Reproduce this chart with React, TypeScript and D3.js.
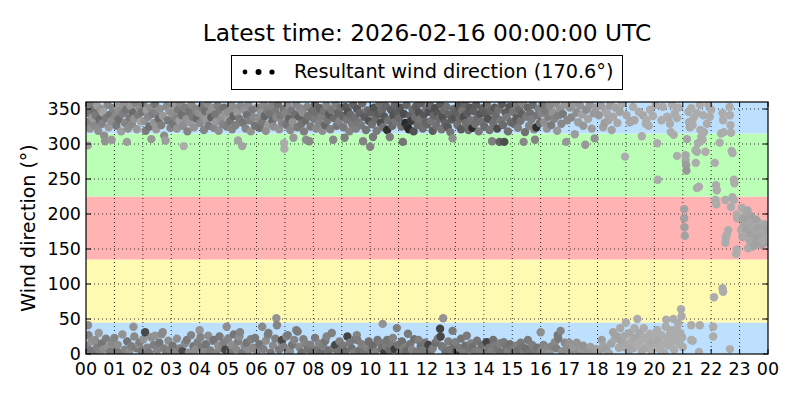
import React from "react";
import * as d3 from "d3";

// ---------- data (hour of day, direction in degrees, gray level 0-255) ----------
const titleText = "Latest time: 2026-02-16 00:00:00 UTC";
const legendText = "Resultant wind direction (170.6°)";
const yLabel = "Wind direction (°)";
const hourLabels = ["00","01","02","03","04","05","06","07","08","09","10","11","12","13","14","15","16","17","18","19","20","21","22","23","00"];
const dirTicks = [0, 50, 100, 150, 200, 250, 300, 350];
const sectorEdges = [0, 45, 135, 225, 315, 360];
const sectorColors = ["#bde0ff", "#fffab2", "#ffb3b3", "#bbffb6", "#bde0ff"];

const upperEarly: [number, number, number][] = [
[0.02,352,120],[0.05,331,110],[0.07,298,140],[0.1,344,95],[0.14,322,125],[0.18,357,105],[0.22,338,130],[0.26,348,90],[0.3,327,115],[0.34,341,100],[0.39,355,135],[0.43,319,120],[0.47,335,85],[0.52,350,125],[0.56,329,110],[0.6,345,140],[0.64,312,120],[0.67,304,125],[0.71,337,100],[0.76,356,115],[0.8,324,130],[0.84,342,95],[0.88,333,120],[0.9,306,130],[0.95,351,110],
[1.03,340,115],[1.07,326,100],[1.11,353,130],[1.15,335,90],[1.2,347,120],[1.24,318,135],[1.28,343,105],[1.33,357,125],[1.37,330,110],[1.41,349,95],[1.44,303,135],[1.48,322,120],[1.53,338,100],[1.57,354,130],[1.61,328,115],[1.66,345,85],[1.7,336,125],[1.75,358,110],[1.79,321,130],[1.84,341,100],[1.88,350,120],[1.93,332,140],[1.97,346,95],
[2.02,356,110],[2.06,333,125],[2.1,319,100],[2.14,348,135],[2.19,339,115],[2.23,325,90],[2.27,352,120],[2.3,307,130],[2.34,343,105],[2.39,330,125],[2.43,357,95],[2.47,321,130],[2.52,345,110],[2.56,336,85],[2.6,350,120],[2.65,327,105],[2.7,340,130],[2.75,312,120],[2.8,305,135],[2.84,354,115],[2.88,334,100],[2.93,347,125],[2.97,323,110],
[3.03,344,120],[3.07,329,95],[3.11,355,130],[3.16,337,110],[3.2,322,125],[3.24,349,100],[3.29,333,135],[3.33,358,115],[3.37,341,90],[3.41,326,120],[3.44,297,150],[3.48,352,105],[3.53,335,125],[3.57,318,110],[3.62,346,95],[3.66,331,130],[3.71,356,115],[3.75,339,100],[3.8,324,125],[3.85,350,110],[3.9,336,85],[3.95,345,120],
[4.02,330,115],[4.06,353,100],[4.1,341,125],[4.15,320,110],[4.19,347,90],[4.23,334,130],[4.28,357,115],[4.32,326,100],[4.36,344,120],[4.41,338,75],[4.45,351,125],[4.5,323,110],[4.54,342,95],[4.58,332,130],[4.63,355,105],[4.67,319,120],[4.72,348,100],[4.76,336,125],[4.81,328,110],[4.86,352,90],[4.9,343,130],[4.95,325,105],
[5.02,346,120],[5.06,333,95],[5.1,357,125],[5.14,321,110],[5.19,340,80],[5.23,351,120],[5.27,327,105],[5.32,345,130],[5.35,305,140],[5.4,336,100],[5.44,354,115],[5.5,297,140],[5.53,330,95],[5.58,348,125],[5.62,322,110],[5.67,341,90],[5.71,356,120],[5.76,334,105],[5.8,318,125],[5.85,349,100],[5.9,338,115],[5.95,326,95],
[6.03,352,105],[6.07,337,120],[6.11,323,90],[6.16,345,125],[6.2,331,100],[6.25,356,115],[6.29,340,80],[6.33,319,120],[6.38,348,105],[6.42,328,130],[6.47,343,95],[6.52,354,110],[6.56,334,85],[6.6,325,120],[6.65,347,100],[6.7,338,115],[6.75,357,90],[6.8,321,125],[6.85,341,100],[6.9,330,110],[6.95,350,95],[6.97,301,150],[6.98,293,160],
[7.02,344,110],[7.06,327,95],[7.1,355,120],[7.14,336,80],[7.19,320,115],[7.23,348,100],[7.27,331,125],[7.3,309,130],[7.35,342,90],[7.4,357,110],[7.44,324,100],[7.49,339,75],[7.53,351,115],[7.58,329,95],[7.62,345,120],[7.67,318,105],[7.72,334,85],[7.74,306,120],[7.78,353,110],[7.82,340,95],[7.86,304,115],[7.9,325,100],[7.95,347,90]
];

const upperMid: [number, number, number][] = [
[8.02,336,100],[8.06,356,85],[8.1,322,115],[8.15,344,90],[8.19,330,110],[8.23,351,75],[8.28,339,105],[8.32,319,120],[8.37,347,95],[8.41,327,80],[8.46,355,110],[8.5,334,95],[8.55,342,70],[8.6,321,105],[8.64,349,100],[8.7,306,115],[8.73,337,85],[8.78,357,105],[8.82,326,95],[8.87,345,80],[8.91,332,110],[8.96,352,90],
[9.02,340,80],[9.06,324,100],[9.1,309,105],[9.13,353,70],[9.18,335,95],[9.22,346,60],[9.27,318,110],[9.31,342,85],[9.36,329,100],[9.4,356,75],[9.45,337,90],[9.5,322,105],[9.54,350,65],[9.59,331,95],[9.63,344,80],[9.68,327,100],[9.72,358,85],[9.75,304,110],[9.8,339,70],[9.85,320,95],[9.9,348,85],[9.95,333,60],
[10.0,296,110],[10.02,345,75],[10.06,328,90],[10.1,310,100],[10.14,352,60],[10.19,336,85],[10.23,319,100],[10.28,343,70],[10.33,357,90],[10.37,330,55],[10.41,347,85],[10.46,324,95],[10.5,339,65],[10.55,354,80],[10.6,320,25],[10.64,334,90],[10.69,310,105],[10.73,349,70],[10.78,326,85],[10.82,341,60],[10.87,356,80],[10.91,332,95],[10.96,345,70],
[11.02,337,85],[11.06,352,65],[11.1,325,90],[11.15,303,95],[11.19,343,55],[11.24,330,20],[11.28,356,80],[11.32,324,30],[11.36,321,20],[11.41,340,75],[11.45,333,40],[11.49,349,85],[11.53,318,60],[11.58,338,90],[11.62,354,70],[11.67,327,85],[11.71,345,60],[11.76,335,95],[11.8,358,75],[11.85,322,90],[11.89,342,65],[11.94,331,80],[11.98,350,95],
[12.02,328,80],[12.06,346,60],[12.11,355,85],[12.15,333,95],[12.2,319,70],[12.24,341,80],[12.29,351,55],[12.33,326,90],[12.38,344,65],[12.42,336,85],[12.47,357,70],[12.51,321,95],[12.55,339,60],[12.6,348,85],[12.64,330,75],[12.69,353,90],[12.73,324,65],[12.78,342,80],[12.82,317,95],[12.87,335,70],[12.9,308,120],[12.94,350,85],[12.98,338,60],
[13.02,345,75],[13.07,327,90],[13.11,354,65],[13.15,336,85],[13.2,321,70],[13.24,348,95],[13.29,339,55],[13.33,357,80],[13.37,330,90],[13.42,344,70],[13.46,320,85],[13.51,352,65],[13.55,334,95],[13.6,323,20],[13.64,347,75],[13.69,329,90],[13.73,356,70],[13.78,338,85],[13.82,318,100],[13.87,343,65],[13.91,332,90],[13.96,351,75],
[14.02,325,85],[14.06,343,70],[14.11,356,90],[14.15,336,60],[14.2,320,95],[14.24,347,80],[14.29,304,105],[14.33,330,90],[14.38,352,65],[14.42,340,85],[14.47,322,55],[14.51,349,90],[14.55,303,75],[14.6,334,95],[14.64,357,70],[14.68,327,85],[14.72,303,55],[14.76,345,75],[14.81,338,100],[14.85,318,90],[14.9,353,65],[14.95,331,85],
[15.02,346,95],[15.06,329,80],[15.11,355,100],[15.15,337,70],[15.2,323,105],[15.24,349,85],[15.29,333,95],[15.33,343,75],[15.38,357,110],[15.4,303,115],[15.45,317,90],[15.5,339,100],[15.54,352,80],[15.59,326,110],[15.63,344,90],[15.68,335,105],[15.72,356,85],[15.77,321,110],[15.8,306,110],[15.85,324,25],[15.88,341,95],[15.93,350,105],[15.97,330,90]
];

const upperLate: [number, number, number][] = [
[16.03,344,110],[16.07,357,95],[16.12,331,120],[16.17,348,100],[16.22,322,125],[16.27,339,105],[16.32,354,115],[16.37,327,100],[16.42,345,125],[16.48,336,110],[16.53,358,120],[16.58,319,130],[16.63,341,105],[16.68,350,125],[16.73,329,115],[16.78,343,100],[16.84,356,130],[16.9,303,130],[16.94,334,115],
[17.03,352,125],[17.08,338,115],[17.14,357,130],[17.2,314,135],[17.26,345,120],[17.32,331,135],[17.38,355,125],[17.45,342,140],[17.5,326,130],[17.57,299,130],[17.6,349,120],[17.67,336,140],[17.73,356,125],[17.8,322,135],[17.87,344,130],[17.9,308,125],[17.95,352,135],
[18.05,341,130],[18.12,355,135],[18.2,324,140],[18.25,330,135],[18.28,349,140],[18.33,344,145],[18.38,334,140],[18.45,356,135],[18.5,320,140],[18.55,339,145],[18.62,352,140],[18.7,330,145],[18.78,346,140],[18.85,357,145],[18.97,282,150],
[19.02,341,145],[19.14,331,145],[19.2,333,145],[19.25,353,150],[19.3,334,145],[19.45,346,150],[19.56,311,150],[19.6,341,145],[19.7,329,150],[19.72,334,150],[19.8,326,150],[19.85,349,150],[19.95,340,150],
[20.05,356,150],[20.1,301,150],[20.12,249,155],[20.25,334,150],[20.3,353,150],[20.45,339,150],[20.5,337,150],[20.55,329,150],[20.58,317,150],[20.62,356,150],[20.68,313,150],[20.72,344,150],[20.8,337,150],[20.8,283,150],[20.85,352,150],
[21.1,284,145],[21.1,277,145],[21.12,270,135],[21.13,262,130],[21.15,307,145],[21.2,346,150],[21.22,331,150],[21.25,324,145],[21.3,351,150],[21.35,327,150],[21.38,337,150],[21.45,291,150],[21.46,273,150],[21.5,289,150],[21.5,344,150],[21.53,301,150],[21.6,356,150],[21.62,320,150],[21.65,310,150],[21.7,306,150],[21.72,341,150],[21.75,317,150],[21.8,289,150],[21.85,329,150],[21.9,356,150],[21.95,339,150],
[22.0,349,150],[22.13,273,150],[22.3,302,150],[22.35,315,150],[22.4,344,150],[22.42,334,150],[22.45,317,150],[22.65,353,150],[22.66,341,150],[22.68,327,150],[22.7,316,150],[22.72,290,150],[22.75,287,150]
];

const turning: [number, number, number][] = [
[21.05,207,140],[21.05,194,140],[21.06,181,140],[21.07,169,140],[21.5,237,150],[21.57,239,150],[22.17,241,150],[22.2,234,150],[22.15,220,150],[22.18,214,150],[22.5,220,150],[22.75,224,150],[22.8,220,150],[22.7,210,150],[22.8,249,150],[22.82,244,150],[23.08,209,150],[22.9,199,150],[22.92,194,150],[23.2,199,150],[23.22,191,150],[23.47,189,150],[23.5,184,150],[23.7,187,150],[23.8,180,150],[22.6,177,150],[22.55,170,150],[22.52,166,150],[22.5,159,150],[22.9,149,150],[22.88,143,150],[23.1,167,145],[23.3,151,150],[23.45,153,150],[23.05,177,150],[23.6,170,150],[23.8,167,150],[23.7,163,150],
[23.15,185,145],[23.25,178,140],[23.3,195,145],[23.35,172,140],[23.4,183,145],[23.42,160,140],[23.55,176,145],[23.58,192,140],[23.62,158,145],[23.65,180,140],[23.75,172,145],[23.78,156,140],[23.85,175,145],[23.88,165,140],[23.9,185,145],[23.93,160,140],[23.95,170,145],[23.97,178,140],[23.99,166,145],[23.5,166,140],[23.35,162,145],[23.12,193,140],[23.28,205,145],[23.4,197,140],[23.52,155,140],[23.68,168,140],[23.82,162,145],
[22.1,81,150],[22.4,94,150],[22.42,89,150]
];

const lowerEarly: [number, number, number][] = [
[0.03,12,115],[0.07,41,120],[0.09,27,110],[0.15,5,100],[0.2,18,125],[0.26,2,95],[0.32,20,120],[0.38,9,105],[0.45,30,130],[0.5,4,110],[0.56,15,95],[0.62,7,120],[0.7,22,105],[0.78,10,125],[0.85,3,100],[0.92,16,115],[1.0,23,110],[1.06,6,95],[1.12,13,120],[1.2,1,100],[1.28,28,125],[1.37,6,110],[1.45,18,95],[1.52,3,120],[1.6,11,105],[1.67,39,125],[1.7,25,115],[1.78,8,100],[1.85,14,120],[1.9,17,105],[1.96,4,95],
[2.02,21,125],[2.08,31,50],[2.15,9,110],[2.22,2,100],[2.3,24,120],[2.38,13,105],[2.43,26,125],[2.5,5,110],[2.58,16,95],[2.66,28,120],[2.7,31,115],[2.75,8,105],[2.82,1,100],[2.9,19,120],[2.97,6,110],[3.05,12,95],[3.12,3,110],[3.2,22,120],[3.3,8,105],[3.4,4,55],[3.48,15,115],[3.55,20,100],[3.62,2,120],[3.7,27,110],[3.78,11,95],[3.85,6,120],[3.93,17,105],
[4.0,34,125],[4.03,24,110],[4.08,9,100],[4.15,3,115],[4.22,14,95],[4.3,26,120],[4.38,5,105],[4.45,19,115],[4.5,20,95],[4.58,1,110],[4.65,12,120],[4.7,25,100],[4.78,8,115],[4.85,16,105],[4.9,6,50],[4.95,39,120],[5.0,22,110],[5.07,3,100],[5.13,13,120],[5.2,28,95],[5.28,7,115],[5.35,18,105],[5.4,25,120],[5.42,31,110],[5.5,2,100],[5.58,11,115],[5.65,16,95],[5.72,5,120],[5.8,21,105],[5.88,9,115],[5.95,23,100],
[6.02,4,110],[6.1,14,95],[6.2,39,115],[6.25,7,105],[6.33,19,120],[6.4,27,110],[6.42,30,100],[6.5,2,95],[6.58,12,115],[6.66,22,105],[6.7,51,125],[6.72,41,110],[6.8,6,100],[6.88,16,115],[6.9,20,50],[6.96,10,105],[7.05,25,110],[7.1,27,100],[7.18,4,115],[7.25,13,95],[7.33,20,110],[7.4,34,105],[7.45,32,100],[7.5,10,115],[7.58,2,90],[7.65,21,105],[7.72,15,110],[7.8,7,95],[7.9,13,105],[7.95,3,90]
];

const lowerMid: [number, number, number][] = [
[8.06,23,100],[8.12,6,95],[8.2,15,110],[8.28,2,85],[8.35,11,105],[8.42,19,95],[8.47,25,110],[8.55,5,90],[8.65,30,105],[8.72,9,100],[8.77,13,50],[8.85,3,95],[8.92,18,105],[8.98,7,90],[9.05,12,100],[9.12,4,85],[9.2,25,45],[9.28,16,100],[9.35,8,90],[9.42,2,105],[9.48,21,95],[9.53,27,110],[9.55,20,100],[9.62,5,90],[9.7,14,105],[9.78,3,95],[9.88,10,110],[9.95,18,90],
[10.02,6,100],[10.1,12,85],[10.18,3,105],[10.26,20,95],[10.35,16,100],[10.4,8,90],[10.44,43,125],[10.5,2,40],[10.56,11,100],[10.6,20,95],[10.68,5,85],[10.75,14,100],[10.8,23,110],[10.86,7,40],[10.94,37,105],[10.98,13,95],[11.05,2,100],[11.12,18,90],[11.2,9,105],[11.28,4,85],[11.33,29,100],[11.4,14,95],[11.47,6,110],[11.55,21,90],[11.62,3,100],[11.7,20,105],[11.78,11,90],[11.86,5,100],[11.93,16,95],
[12.05,13,45],[12.12,3,95],[12.2,8,105],[12.3,16,90],[12.38,22,100],[12.46,36,45],[12.48,25,50],[12.52,11,95],[12.57,51,125],[12.6,8,100],[12.66,2,90],[12.75,18,105],[12.82,6,95],[12.9,33,100],[12.95,14,90],[13.0,17,105],[13.05,4,40],[13.12,9,100],[13.2,22,95],[13.28,2,105],[13.35,12,90],[13.4,26,100],[13.48,7,95],[13.55,15,105],[13.6,10,90],[13.68,3,100],[13.76,19,95],[13.85,6,105],[13.93,13,90],
[14.02,2,100],[14.1,17,45],[14.18,9,95],[14.25,4,105],[14.33,20,90],[14.4,12,100],[14.48,6,95],[14.55,15,105],[14.62,2,90],[14.7,17,100],[14.78,10,95],[14.85,4,105],[14.92,14,90],[15.0,7,100],[15.08,2,95],[15.15,12,105],[15.22,5,90],[15.3,16,100],[15.35,10,95],[15.42,3,105],[15.48,8,90],[15.55,20,100],[15.62,2,95],[15.7,13,105],[15.8,5,100],[15.88,9,95],[15.95,1,105]
];

const lowerLate: [number, number, number][] = [
[16.0,31,120],[16.05,6,115],[16.1,13,110],[16.18,3,120],[16.25,9,115],[16.32,2,125],[16.4,11,110],[16.5,17,115],[16.55,8,105],[16.6,27,95],[16.62,22,100],[16.7,33,110],[16.75,4,120],[16.85,16,115],[16.92,7,120],[17.0,16,125],[17.08,5,120],[17.15,10,130],[17.27,16,125],[17.35,3,120],[17.42,8,130],[17.5,12,125],[17.6,3,130],[17.68,6,125],[17.75,10,135],[17.85,2,130],[17.95,7,135],
[18.05,4,135],[18.15,20,135],[18.2,12,140],[18.3,7,135],[18.4,1,140],[18.48,15,140],[18.55,31,140],[18.6,21,145],[18.7,25,140],[18.75,9,145],[18.8,37,145],[18.85,18,140],[18.9,10,145],[18.95,26,145],[19.0,45,150],[19.05,14,145],[19.1,4,145],[19.14,30,145],[19.2,19,150],[19.25,8,145],[19.3,37,150],[19.33,23,145],[19.4,50,150],[19.42,12,150],[19.46,30,145],[19.5,18,150],[19.55,3,145],[19.6,25,150],[19.63,37,150],[19.7,9,145],[19.75,20,150],[19.8,13,150],[19.85,29,150],[19.9,4,150],[19.95,17,145],
[20.0,24,150],[20.05,10,150],[20.1,34,150],[20.15,19,145],[20.2,6,150],[20.25,27,150],[20.3,14,150],[20.35,2,150],[20.4,39,150],[20.42,49,150],[20.45,22,150],[20.5,12,150],[20.55,30,150],[20.6,34,150],[20.65,18,150],[20.67,50,150],[20.7,6,150],[20.75,25,150],[20.77,23,150],[20.8,36,150],[20.84,44,150],[20.88,15,150],[20.92,29,150],[20.94,64,150],[20.96,54,150],[20.98,24,150],[21.0,10,150],
[21.3,41,150],[21.3,20,150],[21.35,19,150],[21.57,3,150],[21.6,41,150],[22.07,39,150],[22.07,25,150],[22.66,7,150]
];

const legendDotRadii = [2.4, 3.0, 2.6];

// ---------- layout ----------
const W = 800, H = 400;
const M = { left: 86, right: 768, top: 102, bottom: 354 };
const FONT = "'DejaVu Sans', sans-serif";

export default function App() {
  const x = d3.scaleLinear().domain([0, 24]).range([M.left, M.right]);
  const y = d3.scaleLinear().domain([0, 360]).range([M.bottom, M.top]);
  const shade = d3.scaleLinear().domain([20, 150]).range([30, 160]).clamp(true);
  const all = [...upperEarly, ...lowerEarly, ...upperMid, ...lowerMid, ...upperLate, ...lowerLate, ...turning];
  const hours = d3.range(0, 25);
  const tickLen = 5;

  return (
    <svg width={W} height={H} style={{ position: "absolute", left: 0, top: 0, background: "#fff" }} fontFamily={FONT}>
      <defs>
        <clipPath id="plotClip">
          <rect x={M.left} y={M.top} width={M.right - M.left} height={M.bottom - M.top} />
        </clipPath>
      </defs>
      {sectorColors.map((c, i) => (
        <rect key={"b" + i} x={M.left} width={M.right - M.left}
          y={y(sectorEdges[i + 1])} height={y(sectorEdges[i]) - y(sectorEdges[i + 1])} fill={c} />
      ))}
      <g stroke="#000" strokeWidth={0.8} strokeDasharray="1,3">
        {hours.slice(1, 24).map(h => (
          <line key={"gx" + h} x1={x(h)} x2={x(h)} y1={M.top} y2={M.bottom} />
        ))}
        {dirTicks.slice(1).map(d => (
          <line key={"gy" + d} x1={M.left} x2={M.right} y1={y(d)} y2={y(d)} />
        ))}
      </g>
      <g clipPath="url(#plotClip)">
        {all.map((p, i) => {
          const g = Math.round(shade(p[2]) + 12);
          return <circle key={"p" + i} cx={x(p[0])} cy={y(p[1])} r={4.2} fill={d3.rgb(g, g, g).toString()} />;
        })}
      </g>
      <g stroke="#000" strokeWidth={1}>
        {hours.map(h => (
          <g key={"tx" + h}>
            <line x1={x(h)} x2={x(h)} y1={M.bottom} y2={M.bottom - tickLen} />
            <line x1={x(h)} x2={x(h)} y1={M.top} y2={M.top + tickLen} />
          </g>
        ))}
        {dirTicks.map(d => (
          <g key={"ty" + d}>
            <line x1={M.left} x2={M.left + tickLen} y1={y(d)} y2={y(d)} />
            <line x1={M.right} x2={M.right - tickLen} y1={y(d)} y2={y(d)} />
          </g>
        ))}
      </g>
      <rect x={M.left} y={M.top} width={M.right - M.left} height={M.bottom - M.top} fill="none" stroke="#000" strokeWidth={1.2} />
      {hourLabels.map((t, i) => (
        <text key={"lx" + i} x={x(i)} y={375} textAnchor="middle" fontSize={17.5} fill="#000">{t}</text>
      ))}
      {dirTicks.map(d => (
        <text key={"ly" + d} x={M.left - 5} y={y(d)} dy="0.33em" textAnchor="end" fontSize={17.5} fill="#000">{d}</text>
      ))}
      <text transform={`translate(35,${(M.top + M.bottom) / 2}) rotate(-90)`} textAnchor="middle" fontSize={19} fill="#000">{yLabel}</text>
      <text x={(M.left + M.right) / 2} y={41} textAnchor="middle" fontSize={23.3} fill="#000">{titleText}</text>
      <rect x={231.5} y={55.5} width={391} height={34} fill="#fff" stroke="#000" strokeWidth={1} />
      {legendDotRadii.map((r, i) => (
        <circle key={"ld" + i} cx={245 + i * 13.5} cy={72} r={r} fill="#000" />
      ))}
      <text x={294} y={78} fontSize={19.3} fill="#000">{legendText}</text>
    </svg>
  );
}
